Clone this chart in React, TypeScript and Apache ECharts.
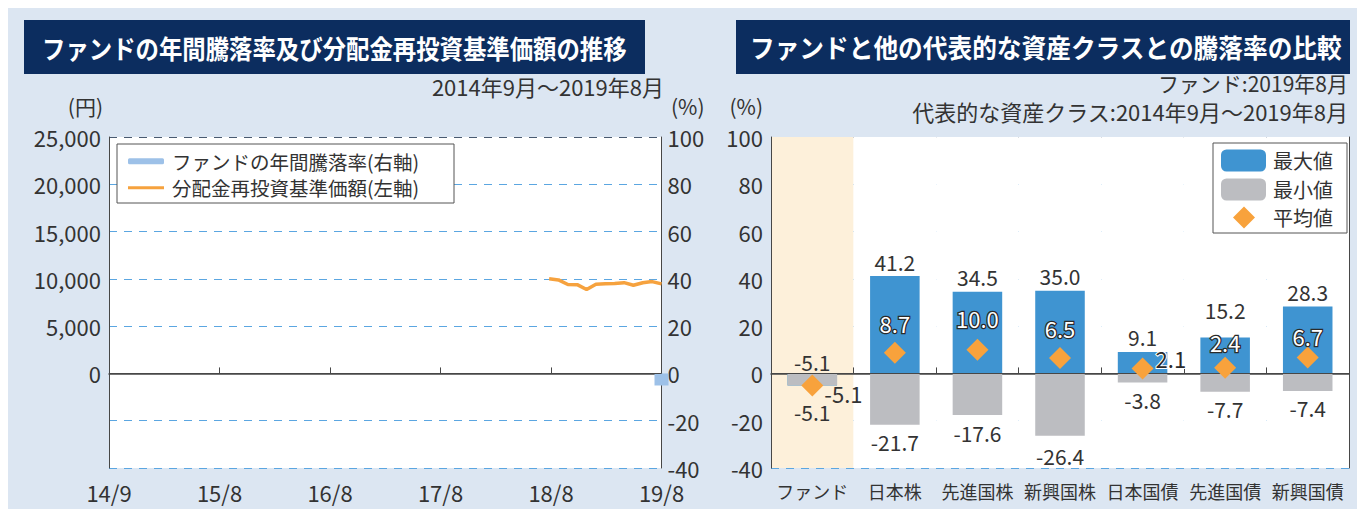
import React, { useEffect, useRef } from 'react';
import * as echarts from 'echarts';

// ---- Left chart data ----
const axisTickLabels = ['14/9', '15/8', '16/8', '17/8', '18/8', '19/8'];
const yenTicks = { min: -10000, max: 25000, step: 5000 };
const pctTicks = { min: -40, max: 100, step: 20 };

// monthly categories 2014/9 .. 2019/8
const monthCategories: string[] = [];
for (let y = 14, m = 9; !(y === 19 && m === 9); ) {
  monthCategories.push(`${y}/${m}`);
  m += 1;
  if (m > 12) { m = 1; y += 1; }
}

const navMonths = ['18/8', '18/9', '18/10', '18/11', '18/12', '19/1', '19/2', '19/3', '19/4', '19/5', '19/6', '19/7', '19/8'];
const navValues = [10000, 9890, 9400, 9390, 8870, 9430, 9480, 9520, 9600, 9320, 9590, 9710, 9470];
const rateMonths = ['19/8'];
const rateValues = [-5.1];

// ---- Right chart data ----
const assetClasses = ['ファンド', '日本株', '先進国株', '新興国株', '日本国債', '先進国債', '新興国債'];
const maxValues = [-5.1, 41.2, 34.5, 35.0, 9.1, 15.2, 28.3];
const minValues = [-5.1, -21.7, -17.6, -26.4, -3.8, -7.7, -7.4];
const avgValues = [-5.1, 8.7, 10.0, 6.5, 2.1, 2.4, 6.7];

const FONT = '"Noto Sans CJK JP", "Noto Sans", sans-serif';
const TXT = '#333333';
const GRID_LINE = '#5ba6e1';
const AXIS = '#474747';

function buildOption() {
  const navSeries = monthCategories.map((c) => {
    const i = navMonths.indexOf(c);
    return i >= 0 ? navValues[i] : null;
  });
  const rateSeries = monthCategories.map((c) => {
    const i = rateMonths.indexOf(c);
    return i >= 0 ? rateValues[i] : null;
  });

  const maxDist = [1, 4, 4, 4, 4, 17, 4];
  const minDist = [16, 7, 7, 10, 7, 7, 7];
  const avgLabel = (i: number) => {
    if (i === 0) return { position: 'right', distance: 1, offset: [0, 8], color: TXT, textBorderWidth: 0 };
    if (i === 4) return { position: 'right', distance: 2, offset: [0, -10], color: '#2a2a2a', textBorderColor: '#fff', textBorderWidth: 2 };
    const d = [0, 8, 10, 8, 0, 4, 0][i];
    return { position: 'top', distance: d };
  };

  const splitColors = [GRID_LINE, GRID_LINE, GRID_LINE, GRID_LINE, GRID_LINE, GRID_LINE, GRID_LINE, '#4a5a70'];

  return {
    animation: false,
    backgroundColor: '#dce6f2',
    textStyle: { fontFamily: FONT, color: TXT },
    grid: [
      { left: 109, top: 137, width: 552.5, height: 331, show: true, backgroundColor: '#ffffff', borderWidth: 0 },
      { left: 771, top: 137, width: 578, height: 331, show: true, backgroundColor: '#ffffff', borderWidth: 0 },
    ],
    legend: [
      {
        z: 20,
        data: [
          { name: 'ファンドの年間騰落率(右軸)' },
          { name: '分配金再投資基準価額(左軸)', icon: 'path://M0 0H36V3H0Z' },
        ],
        orient: 'vertical',
        left: 128,
        top: 151.5,
        padding: 0,
        itemWidth: 36,
        itemHeight: 6,
        itemGap: 7,
        selectedMode: false,
        textStyle: { fontSize: 19.5, color: TXT, fontFamily: FONT, padding: [0, 0, 0, 3] },
      },
      {
        z: 20,
        data: ['最大値', '最小値'],
        orient: 'vertical',
        left: 1221,
        top: 149.5,
        padding: 0,
        itemWidth: 45,
        itemHeight: 22,
        itemGap: 7,
        selectedMode: false,
        textStyle: { fontSize: 20, color: TXT, fontFamily: FONT, padding: [0, 0, 0, 2] },
      },
      {
        z: 20,
        data: ['平均値'],
        orient: 'vertical',
        left: 1233,
        top: 206.5,
        padding: 0,
        itemWidth: 22,
        itemHeight: 22,
        selectedMode: false,
        textStyle: { fontSize: 20, color: TXT, fontFamily: FONT, padding: [0, 0, 0, 13] },
      },
    ],
    xAxis: [
      {
        gridIndex: 0,
        type: 'category',
        data: axisTickLabels,
        boundaryGap: false,
        axisLine: { show: true, lineStyle: { color: AXIS, width: 1.5 } },
        axisTick: { show: true, inside: true, length: 6, interval: 0, lineStyle: { color: AXIS } },
        axisLabel: { fontSize: 22, color: TXT, margin: 13, interval: 0, fontFamily: FONT },
        splitLine: { show: false },
      },
      {
        gridIndex: 0,
        type: 'category',
        data: monthCategories,
        boundaryGap: false,
        show: false,
      },
      {
        gridIndex: 1,
        type: 'category',
        data: assetClasses,
        boundaryGap: true,
        axisLine: { show: true, lineStyle: { color: AXIS, width: 1.5 } },
        axisTick: { show: true, inside: true, length: 6, interval: 0, lineStyle: { color: AXIS } },
        axisLabel: { fontSize: 18, color: TXT, margin: 14, interval: 0, fontFamily: FONT },
        splitLine: { show: false },
        splitArea: {
          show: true,
          interval: 0,
          areaStyle: { color: ['#fdf0da', '#ffffff', '#ffffff', '#ffffff', '#ffffff', '#ffffff', '#ffffff'] },
        },
      },
    ],
    yAxis: [
      {
        gridIndex: 0,
        type: 'value',
        position: 'left',
        min: yenTicks.min,
        max: yenTicks.max,
        interval: yenTicks.step,
        axisLine: { show: true, lineStyle: { color: AXIS } },
        axisTick: { show: false },
        splitLine: { show: false },
        axisLabel: {
          fontSize: 22,
          color: TXT,
          margin: 8,
          fontFamily: FONT,
          formatter: (v: number) => (v < 0 ? '' : v.toLocaleString('en-US')),
        },
      },
      {
        gridIndex: 0,
        type: 'value',
        position: 'right',
        min: pctTicks.min,
        max: pctTicks.max,
        interval: pctTicks.step,
        axisLine: { show: true, lineStyle: { color: AXIS } },
        axisTick: { show: false },
        splitLine: { show: true, lineStyle: { color: splitColors, type: [8, 7], width: 1 } },
        axisLabel: { fontSize: 22, color: TXT, margin: 6, fontFamily: FONT },
      },
      {
        gridIndex: 1,
        type: 'value',
        position: 'left',
        min: pctTicks.min,
        max: pctTicks.max,
        interval: pctTicks.step,
        axisLine: { show: true, lineStyle: { color: AXIS } },
        axisTick: { show: false },
        splitLine: { show: true, lineStyle: { color: splitColors, type: [8, 7], width: 1 } },
        axisLabel: { fontSize: 22, color: TXT, margin: 8, fontFamily: FONT },
      },
      {
        gridIndex: 1,
        type: 'value',
        position: 'right',
        min: pctTicks.min,
        max: pctTicks.max,
        interval: pctTicks.step,
        axisLine: { show: true, lineStyle: { color: AXIS } },
        axisTick: { show: false },
        splitLine: { show: false },
        axisLabel: { show: false },
      },
    ],
    series: [
      {
        name: 'ファンドの年間騰落率(右軸)',
        type: 'bar',
        xAxisIndex: 1,
        yAxisIndex: 1,
        data: rateSeries,
        barWidth: 14,
        clip: true,
        itemStyle: { color: '#9dc1e8' },
        markLine: {
          silent: true,
          symbol: 'none',
          label: { show: false },
          lineStyle: { color: AXIS, type: 'solid', width: 1 },
          data: [{ yAxis: 0 }],
        },
      },
      {
        name: '分配金再投資基準価額(左軸)',
        type: 'line',
        xAxisIndex: 1,
        yAxisIndex: 0,
        data: navSeries,
        symbol: 'none',
        showSymbol: false,
        connectNulls: false,
        lineStyle: { color: '#f6a23e', width: 3.5 },
        itemStyle: { color: '#f6a23e' },
      },
      {
        name: '最大値',
        type: 'bar',
        xAxisIndex: 2,
        yAxisIndex: 2,
        barWidth: '60%',
        barGap: '-100%',
        itemStyle: { color: '#3f94d1' },
        data: maxValues.map((v, i) => ({ value: v, label: { distance: maxDist[i] } })),
        label: {
          show: true,
          position: 'top',
          fontSize: 21,
          color: TXT,
          fontFamily: FONT,
          formatter: (p: any) => Number(p.value).toFixed(1),
        },
        markLine: {
          silent: true,
          symbol: 'none',
          label: { show: false },
          lineStyle: { color: AXIS, type: 'solid', width: 1 },
          data: [{ yAxis: 0 }],
          z: 5,
        },
      },
      {
        name: '最小値',
        type: 'bar',
        xAxisIndex: 2,
        yAxisIndex: 2,
        barWidth: '60%',
        barGap: '-100%',
        itemStyle: { color: '#bcbdc1' },
        data: minValues.map((v, i) => ({ value: v, label: { distance: minDist[i] } })),
        label: {
          show: true,
          position: 'bottom',
          fontSize: 21,
          color: TXT,
          fontFamily: FONT,
          formatter: (p: any) => Number(p.value).toFixed(1),
        },
      },
      {
        name: '平均値',
        type: 'scatter',
        xAxisIndex: 2,
        yAxisIndex: 2,
        symbol: 'diamond',
        symbolSize: 22,
        itemStyle: { color: '#f8a23c', opacity: 1 },
        z: 6,
        data: avgValues.map((v, i) => ({ value: v, label: avgLabel(i) })),
        label: {
          show: true,
          fontSize: 22,
          color: '#ffffff',
          textBorderColor: '#2a2a2a',
          textBorderWidth: 2.5,
          fontFamily: FONT,
          formatter: (p: any) => Number(p.value).toFixed(1),
        },
      },
    ],
    graphic: [
      { type: 'rect', z: 1, shape: { x: 0, y: 0, width: 1357, height: 8 }, style: { fill: '#ffffff' } },
      { type: 'rect', z: 1, shape: { x: 0, y: 0, width: 8, height: 509 }, style: { fill: '#ffffff' } },
      { type: 'rect', z: 1, shape: { x: 24, y: 20, width: 621, height: 54 }, style: { fill: '#0c2d5f' } },
      {
        type: 'text', z: 2, x: 42, y: 47, scaleX: 0.9,
        style: { text: 'ファンドの年間騰落率及び分配金再投資基準価額の推移', fill: '#ffffff', font: `bold 26px ${FONT}`, textAlign: 'left', textVerticalAlign: 'middle' },
      },
      { type: 'rect', z: 1, shape: { x: 736, y: 20, width: 614, height: 54 }, style: { fill: '#0c2d5f' } },
      {
        type: 'text', z: 2, x: 750, y: 47, scaleX: 0.95,
        style: { text: 'ファンドと他の代表的な資産クラスとの騰落率の比較', fill: '#ffffff', font: `bold 26px ${FONT}`, textAlign: 'left', textVerticalAlign: 'middle' },
      },
      {
        type: 'text', z: 2, x: 664, y: 86,
        style: { text: '2014年9月～2019年8月', fill: TXT, font: `22px ${FONT}`, textAlign: 'right', textVerticalAlign: 'middle' },
      },
      {
        type: 'text', z: 2, x: 103, y: 106,
        style: { text: '(円)', fill: TXT, font: `21px ${FONT}`, textAlign: 'right', textVerticalAlign: 'middle' },
      },
      {
        type: 'text', z: 2, x: 671, y: 106,
        style: { text: '(%)', fill: TXT, font: `21px ${FONT}`, textAlign: 'left', textVerticalAlign: 'middle' },
      },
      {
        type: 'text', z: 2, x: 763, y: 106,
        style: { text: '(%)', fill: TXT, font: `21px ${FONT}`, textAlign: 'right', textVerticalAlign: 'middle' },
      },
      {
        type: 'text', z: 2, x: 1348, y: 83,
        style: { text: 'ファンド:2019年8月', fill: TXT, font: `21px ${FONT}`, textAlign: 'right', textVerticalAlign: 'middle' },
      },
      {
        type: 'text', z: 2, x: 1348, y: 111,
        style: { text: '代表的な資産クラス:2014年9月～2019年8月', fill: TXT, font: `22px ${FONT}`, textAlign: 'right', textVerticalAlign: 'middle' },
      },
      { type: 'rect', z: 10, shape: { x: 117, y: 144, width: 337, height: 59 }, style: { fill: '#ffffff', stroke: '#555555', lineWidth: 1 } },
      { type: 'rect', z: 10, shape: { x: 1213, y: 143, width: 134, height: 90 }, style: { fill: '#ffffff', stroke: '#555555', lineWidth: 1 } },
    ],
  };
}

export default function App() {
  const ref = useRef<HTMLDivElement>(null);
  useEffect(() => {
    document.body.style.margin = '0';
    if (!ref.current) return;
    const chart = echarts.init(ref.current, null, { renderer: 'svg' });
    chart.setOption(buildOption() as any);
    return () => chart.dispose();
  }, []);
  return <div ref={ref} style={{ width: 1357, height: 509 }} />;
}
